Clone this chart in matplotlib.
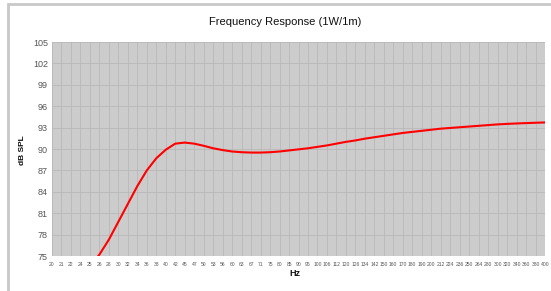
import matplotlib
matplotlib.use("Agg")
import matplotlib.pyplot as plt
from matplotlib.patches import Rectangle

freq_labels = ["20", "21", "22", "24", "25", "26", "28", "30", "32", "34",
               "36", "38", "40", "42", "45", "47", "50", "53", "56", "60",
               "63", "67", "71", "75", "80", "85", "90", "95", "100", "106",
               "112", "120", "126", "134", "142", "150", "160", "170", "180", "190",
               "200", "212", "224", "236", "250", "264", "280", "300", "320", "340",
               "360", "380", "400"]
spl_db = [65.0, 67.2, 69.5, 71.6, 73.6, 75.2, 77.3, 79.8, 82.3, 84.8,
          87.0, 88.7, 89.9, 90.75, 90.9, 90.75, 90.45, 90.1, 89.85, 89.65,
          89.55, 89.5, 89.5, 89.55, 89.65, 89.8, 89.95, 90.1, 90.3, 90.5,
          90.75, 91.0, 91.2, 91.45, 91.65, 91.85, 92.05, 92.25, 92.4, 92.55,
          92.7, 92.85, 92.95, 93.05, 93.15, 93.25, 93.35, 93.45, 93.52, 93.58,
          93.63, 93.68, 93.72]
y_ticks = [75, 78, 81, 84, 87, 90, 93, 96, 99, 102, 105]

FONT = "Liberation Sans"

W, H = 551, 291
fig = plt.figure(figsize=(W / 100, H / 100), dpi=100)
fig.patch.set_facecolor("white")

# outer panel border
fig.patches.append(Rectangle((8 / W, -0.05), 1.2, (H - 4) / H + 0.05,
                             transform=fig.transFigure, fill=False,
                             edgecolor="#c8c8c8", linewidth=2))

left, right, top, bottom = 52, 545, 42, 256
ax = fig.add_axes([left / W, 1 - bottom / H, (right - left) / W, (bottom - top) / H])
ax.set_facecolor("#cccccc")

x = list(range(len(freq_labels)))
ax.plot(x, spl_db, color="#ff0000", linewidth=1.5, zorder=3,
        solid_joinstyle="round", antialiased=True)

ax.set_xlim(0, len(freq_labels) - 1)
ax.set_ylim(75, 105)
ax.set_xticks(x)
ax.set_xticklabels(freq_labels, fontsize=3.6, color="#555555", family=FONT)
ax.set_yticks(y_ticks)
ax.set_yticklabels([str(v) for v in y_ticks], fontsize=6.5, color="#555555", family=FONT)
ax.tick_params(axis="x", length=0, pad=4)
ax.tick_params(axis="y", length=0, pad=3)
ax.grid(True, color="#b8b8b8", linewidth=0.6)
ax.set_axisbelow(True)
for s in ax.spines.values():
    s.set_visible(False)

fig.text(285 / W, 1 - 22 / H, "Frequency Response (1W/1m)", ha="center", va="center",
         fontsize=8, color="#111111", family=FONT)
fig.text(295 / W, 1 - 274 / H, "Hz", ha="center", va="center", fontsize=6.5,
         fontweight="bold", color="#111111", family=FONT)
fig.text(22 / W, 1 - 150 / H, "dB SPL", ha="center", va="center", rotation=90,
         fontsize=6, fontweight="bold", color="#111111", family=FONT)

fig.savefig("out.png", dpi=100)
